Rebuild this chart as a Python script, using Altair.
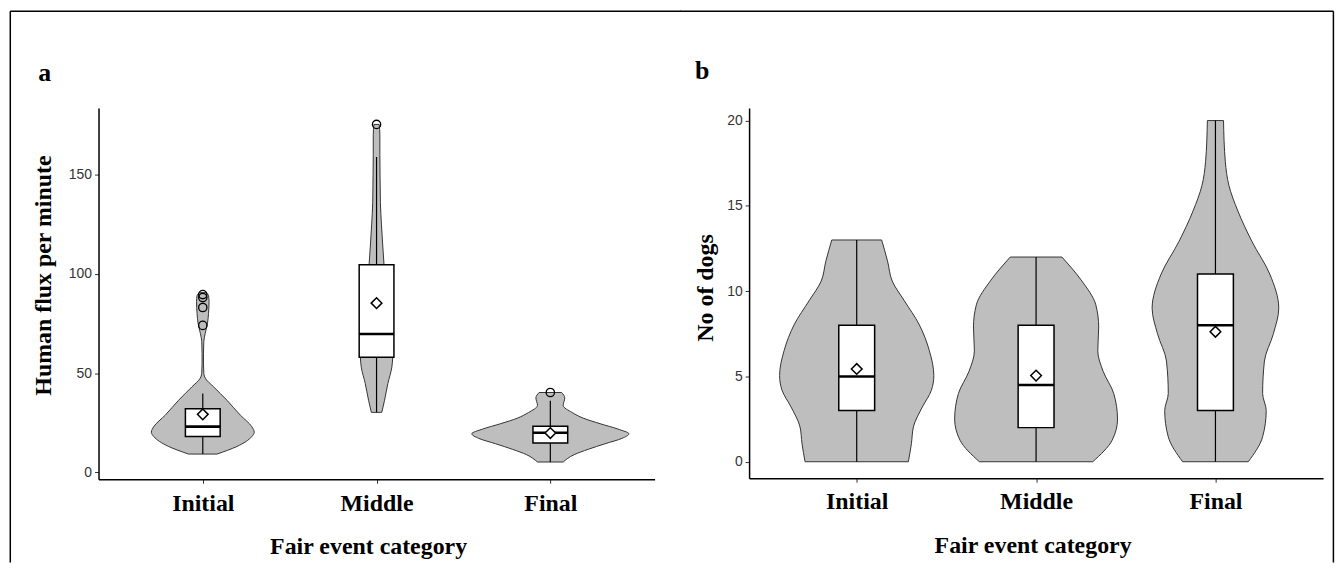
import altair as alt
import pandas as pd

categories = ["Initial", "Middle", "Final"]

# ---------- Panel a : Human flux per minute ----------
a_init_values = [9.2, 13, 18, 20.2, 23, 28.8, 36.3, 43, 47.2, 49.7, 55, 60, 66, 70, 75, 80, 86, 89, 90.5]
a_init_widths = [0.082, 0.196, 0.282, 0.296, 0.282, 0.216, 0.139, 0.063, 0.016, 0.006, 0.004, 0.004, 0.006, 0.014, 0.027, 0.033, 0.036, 0.033, 0.02]
a_mid_values = [30.2, 36.3, 44.7, 53, 58, 63, 70, 80, 92, 104.5, 115, 125, 136, 150, 160, 170, 175.2]
a_mid_widths = [0.030, 0.046, 0.065, 0.088, 0.093, 0.094, 0.086, 0.072, 0.057, 0.043, 0.035, 0.028, 0.022, 0.020, 0.019, 0.019, 0.015]
a_fin_values = [5.2, 8.9, 11.6, 14.4, 17.1, 19.4, 21.8, 24.5, 27.3, 30.1, 33.7, 37.5, 40.2]
a_fin_widths = [0.074, 0.137, 0.218, 0.315, 0.412, 0.452, 0.389, 0.286, 0.189, 0.126, 0.074, 0.083, 0.065]

a_low = [9.2, 30.2, 5.2]
a_q1 = [18, 58, 14.8]
a_median = [23, 69.7, 19.9]
a_q3 = [32, 104.5, 23.2]
a_high = [39.7, 158.8, 36]
a_mean = [29.2, 85.2, 19.8]
a_outlier_cat = ["Initial", "Initial", "Initial", "Initial", "Middle", "Final"]
a_outlier_val = [74, 83, 88, 89.5, 175.2, 40.2]

# ---------- Panel b : No of dogs ----------
b_init_values = [0, 1.07, 2.04, 3.21, 4.18, 5.05, 6.51, 8.07, 9.43, 10.59, 11.76, 13]
b_init_widths = [0.288, 0.305, 0.316, 0.366, 0.416, 0.430, 0.405, 0.347, 0.266, 0.198, 0.172, 0.139]
b_mid_values = [0, 1.26, 2.5, 4.0, 5.3, 6.5, 7.9, 9.2, 10.6, 12]
b_mid_widths = [0.316, 0.424, 0.454, 0.433, 0.374, 0.344, 0.349, 0.333, 0.255, 0.144]
b_fin_values = [0, 1.46, 3.0, 4.0, 5.9, 7.5, 9.0, 11.0, 12.9, 14.7, 16.2, 17.6, 20]
b_fin_widths = [0.183, 0.263, 0.283, 0.263, 0.273, 0.323, 0.353, 0.303, 0.204, 0.125, 0.075, 0.055, 0.045]

b_low = [0, 0, 0]
b_q1 = [3, 2, 3]
b_median = [5, 4.5, 8]
b_q3 = [8, 8, 11]
b_high = [13, 12, 20]
b_mean = [5.44, 5.05, 7.62]

SERIF = "Liberation Serif"
SANS = "Liberation Sans"
LABEL_EXPR = "datum.value == 1 ? 'Initial' : datum.value == 2 ? 'Middle' : 'Final'"


def violin_frame(vals, wids):
    rows = []
    for i, (v_list, w_list) in enumerate(zip(vals, wids)):
        for v, w in zip(v_list, w_list):
            rows.append({"cat": categories[i], "idx": i + 1, "value": v, "hw": w})
    return pd.DataFrame(rows).sort_values(["cat", "value"])


def panel(vals, wids, low, q1, med, q3, high, mean, out_cat, out_val,
          ydomain, yticks, ytitle, title_xy, label_pad, width, height, letter, letter_xy, border):
    xscale = alt.Scale(domain=[0.4, 3.6], nice=False, zero=False)
    yscale = alt.Scale(domain=ydomain, nice=False, zero=False)
    xaxis = alt.Axis(values=[1, 2, 3], labelExpr=LABEL_EXPR, grid=False,
                     domainColor="black", domainWidth=1.5, tickColor="#333333", tickWidth=1, tickSize=4,
                     labelFont=SERIF, labelFontWeight="bold", labelFontSize=24, labelColor="black",
                     labelBaseline="alphabetic", labelPadding=label_pad, labelFlush=False, labelOverlap=False,
                     title="Fair event category", titleFont=SERIF, titleFontWeight="bold", titleFontSize=24,
                     titleColor="black", titleX=title_xy[2], titleY=title_xy[3], titleAlign="center",
                     titleBaseline="alphabetic")
    yaxis = alt.Axis(values=yticks, grid=False, domainColor="black", domainWidth=1.5,
                     tickColor="#333333", tickWidth=1, tickSize=4,
                     labelFont=SANS, labelFontSize=14, labelColor="#333333", labelPadding=3,
                     title=ytitle, titleFont=SERIF, titleFontWeight="bold", titleFontSize=24,
                     titleColor="black", titleAngle=270, titleX=title_xy[0], titleY=title_xy[1],
                     titleAlign="center", titleBaseline="middle")

    vdf = violin_frame(vals, wids)
    violin = alt.Chart(vdf).transform_calculate(
        left="datum.idx - datum.hw", right="datum.idx + datum.hw"
    ).mark_area(orient="horizontal", fill="#bebebe", stroke="#333333", strokeWidth=1,
                interpolate="monotone", opacity=1).encode(
        y=alt.Y("value:Q", scale=yscale, axis=yaxis),
        x=alt.X("left:Q", scale=xscale, axis=xaxis, stack=False),
        x2="right:Q",
        detail="cat:N",
    )

    sdf = pd.DataFrame({"cat": categories, "idx": [1, 2, 3], "low": low, "q1": q1,
                        "med": med, "q3": q3, "high": high, "mean": mean})
    base = alt.Chart(sdf).transform_calculate(bl="datum.idx - 0.1", br="datum.idx + 0.1")
    whisk = base.mark_rule(color="black", strokeWidth=1.2).encode(
        x=alt.X("idx:Q", scale=xscale), y=alt.Y("low:Q", scale=yscale), y2="high:Q")
    box = base.mark_rect(fill="white", stroke="black", strokeWidth=1.5).encode(
        x=alt.X("bl:Q", scale=xscale), x2="br:Q", y=alt.Y("q1:Q", scale=yscale), y2="q3:Q")
    median = base.mark_rule(color="black", strokeWidth=2.6).encode(
        x=alt.X("bl:Q", scale=xscale), x2="br:Q", y=alt.Y("med:Q", scale=yscale))
    meanpt = base.mark_point(shape="diamond", fill="white", stroke="black", strokeWidth=1.5,
                             size=115, opacity=1, fillOpacity=1).encode(
        x=alt.X("idx:Q", scale=xscale), y=alt.Y("mean:Q", scale=yscale))

    layers = [violin, whisk, box, median, meanpt]

    if out_cat:
        odf = pd.DataFrame({"cat": out_cat, "value": out_val})
        odf["idx"] = [categories.index(c) + 1 for c in out_cat]
        outl = alt.Chart(odf).mark_point(shape="circle", filled=False, stroke="black",
                                         strokeWidth=1.3, size=70, opacity=1).encode(
            x=alt.X("idx:Q", scale=xscale), y=alt.Y("value:Q", scale=yscale))
        layers.append(outl)

    one = pd.DataFrame({"k": [0]})
    letter_mark = alt.Chart(one).mark_text(font=SERIF, fontWeight="bold", fontSize=26, align="left",
                                           baseline="alphabetic", color="black").encode(
        x=alt.value(letter_xy[0]), y=alt.value(letter_xy[1]), text=alt.value(letter))
    layers.append(letter_mark)

    for seg in border:
        enc = {k: alt.value(v) for k, v in seg.items()}
        layers.append(alt.Chart(one).mark_rule(color="black", strokeWidth=1.5).encode(**enc))

    return alt.layer(*layers).properties(width=width, height=height)


panel_a = panel(
    [a_init_values, a_mid_values, a_fin_values],
    [a_init_widths, a_mid_widths, a_fin_widths],
    a_low, a_q1, a_median, a_q3, a_high, a_mean, a_outlier_cat, a_outlier_val,
    [-3.5, 183.5], [0, 50, 100, 150], "Human flux per minute",
    (-55.7, 168, 271, 75), 27.7, 559, 373.3, "a", (-60.7, -27),
    [dict(x=-88.7, y=-97.3, y2=457), dict(x=-88.7, x2=585.3, y=-97.3)],
)

panel_b = panel(
    [b_init_values, b_mid_values, b_fin_values],
    [b_init_widths, b_mid_widths, b_fin_widths],
    b_low, b_q1, b_median, b_q3, b_high, b_mean, [], [],
    [-0.97, 20.74], [0, 5, 10, 15, 20], "No of dogs",
    (-43.7, 180.5, 285, 75), 26.2, 577, 372.3, "b", (-54.3, -28.6),
    [dict(x=-69.3, x2=587.4, y=-97.3), dict(x=587.4, y=-97.3, y2=457)],
)

chart = alt.hconcat(panel_a, panel_b, spacing=-4).properties(
    padding={"left": 1, "top": 0, "right": 0, "bottom": 0},
    background="white",
).configure_view(strokeWidth=0)

chart.save("out.html", embed_options={"renderer": "svg", "actions": False})
